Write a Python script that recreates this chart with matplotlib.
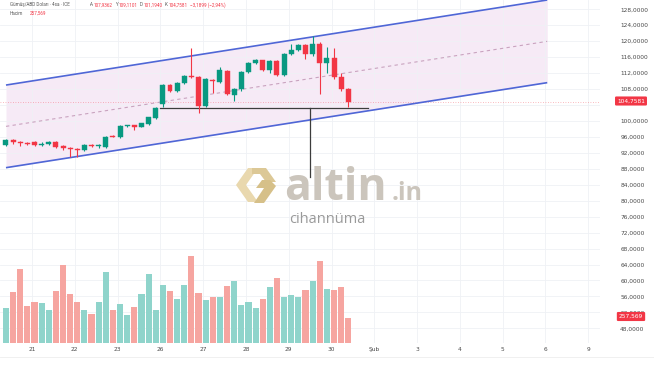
import matplotlib
matplotlib.use('Agg')
import matplotlib.pyplot as plt
import numpy as np
from matplotlib.patches import Rectangle, Polygon

# ---------------- data ----------------
opens = [93.9, 95.2, 94.8, 94.5, 94.6, 94.0, 94.2, 94.7, 93.6, 93.3,
         93.0, 92.7, 94.0, 93.7, 93.5, 96.3, 96.0, 98.7, 98.9, 98.6,
         99.2, 100.7, 104.2, 109.0, 107.5, 109.5, 111.3, 111.1, 103.8, 110.3,
         109.8, 112.6, 106.5, 107.9, 112.3, 114.6, 115.2, 112.7, 115.0, 111.5,
         116.9, 117.9, 119.0, 116.7, 119.4, 114.6, 115.9, 111.0, 107.94]
highs = [95.5, 95.5, 95.0, 94.7, 94.9, 94.6, 95.0, 95.0, 93.9, 93.5,
         93.3, 94.2, 94.2, 94.2, 96.1, 96.6, 98.9, 99.1, 99.1, 99.6,
         101.1, 103.4, 109.3, 109.3, 109.7, 111.5, 118.2, 111.3, 110.7, 110.6,
         113.5, 112.9, 108.2, 112.5, 114.8, 115.5, 115.4, 115.3, 115.2, 117.1,
         119.2, 119.3, 119.2, 121.2, 119.7, 118.6, 118.2, 112.0, 108.3]
lows = [93.7, 94.3, 93.6, 93.9, 93.6, 93.6, 94.0, 93.3, 92.7, 90.9,
        91.0, 92.5, 93.4, 93.2, 93.3, 95.9, 95.8, 98.5, 97.7, 98.4,
        99.0, 100.5, 103.5, 107.2, 107.3, 109.2, 110.7, 102.1, 103.4, 106.9,
        109.5, 106.5, 104.9, 107.6, 112.1, 114.3, 112.5, 112.0, 111.2, 111.3,
        116.6, 117.6, 115.5, 116.4, 106.7, 111.9, 110.6, 107.6, 103.4]
closes = [95.2, 94.8, 94.4, 94.3, 94.0, 94.2, 94.8, 93.5, 93.1, 92.9,
          92.8, 94.0, 93.7, 93.9, 96.0, 96.0, 98.7, 98.9, 98.6, 99.4,
          100.9, 103.2, 109.0, 107.5, 109.5, 111.2, 111.0, 103.8, 110.4, 109.9,
          112.7, 106.7, 107.9, 112.3, 114.6, 115.2, 112.7, 115.0, 111.5, 116.9,
          117.9, 119.0, 116.7, 119.4, 114.6, 115.8, 111.0, 107.9, 104.7581]
volumes_k = [354, 522, 755, 378, 419, 409, 333, 532, 800, 498,
             419, 333, 292, 419, 728, 333, 395, 282, 361, 498,
             704, 333, 591, 529, 453, 594, 889, 512, 443, 474,
             467, 587, 639, 388, 416, 357, 446, 570, 666, 464,
             488, 474, 539, 635, 841, 556, 539, 574, 257.569]

day_labels = ['21', '22', '23', '26', '27', '28', '29', '30', 'Şub', '3', '4', '5', '6', '9']
candles_per_day = 6
first_day_index = 4
price_ticks = list(range(48, 129, 4))
hidden_price_ticks = [104]   # covered by the last-price tag

last_price = 104.7581
last_price_text = '104,7581'
last_volume = '257,569'

# channel drawing (candle index, price)
channel_x = [0, 75.9]
channel_upper = [109.0, 130.33]
channel_lower = [88.28, 109.6]

support_level = 103.3
support_x = [21.6, 50.7]
marker_x = 42.6
marker_bottom = 85.9

# ---------------- figure ----------------
W, H = 654, 366
fig = plt.figure(figsize=(W / 100, H / 100), dpi=100)
fig.patch.set_facecolor('white')


def fx(px):
    return px / W


def fy(py):
    return 1 - py / H


ax_bottom_px = 342.5
ax_right_px = 600
ax = fig.add_axes([0, fy(ax_bottom_px), fx(ax_right_px), ax_bottom_px / H])
ax.set_xlim(-0.84, 83.3)
ax.set_ylim(44.44, 130.33)
for s in ax.spines.values():
    s.set_visible(False)

GREEN = '#089981'
RED = '#f23645'

# volume (twin axis, created first so the price scale can be put back on the right)
ax2 = ax.twinx()
ax2.set_ylim(0, 3530)
ax2.set_yticks([])
for s in ax2.spines.values():
    s.set_visible(False)
vcols = ['#8fd4cb' if c >= o else '#f6a5a0' for o, c in zip(opens, closes)]
ax2.bar(range(len(volumes_k)), volumes_k, width=0.86, color=vcols, zorder=2)

# grid
ax.set_axisbelow(True)
ax.grid(True, color='#eff1f5', lw=0.6)

# ticks
ax.yaxis.tick_right()
ax.yaxis.set_label_position('right')
ax.set_yticks(price_ticks)
ax.set_yticklabels(['' if v in hidden_price_ticks else f"{v},0000" for v in price_ticks])
ax.tick_params(axis='y', which='both', left=False, right=False, labelleft=False, labelright=True,
               length=0, pad=14.5, labelsize=4.2, labelcolor='#4a4a4a')
xt = [first_day_index + candles_per_day * k - 0.35 for k in range(len(day_labels))]
ax.set_xticks(xt)
ax.set_xticklabels(day_labels)
ax.tick_params(axis='x', length=0, pad=3.5, labelsize=4.2, labelcolor='#4a4a4a')

# channel
cx = np.array(channel_x)
ax.fill_between(cx, channel_lower, channel_upper, color='#f6eaf6', zorder=0.3, lw=0)
ax.plot(cx, channel_upper, color='#4f66d6', lw=1.2, zorder=2, solid_capstyle='butt')
ax.plot(cx, channel_lower, color='#4f66d6', lw=1.2, zorder=2, solid_capstyle='butt')
mid = (np.array(channel_upper) + np.array(channel_lower)) / 2
ax.plot(cx, mid, color='#c9a3bf', lw=0.8, ls=(0, (3, 3)), zorder=2)

# last price line
ax.axhline(last_price, color=RED, lw=0.6, ls=(0, (1, 2)), alpha=0.45, zorder=1)

# support line and marker
ax.plot(support_x, [support_level, support_level], color='#3c3c3c', lw=0.9, zorder=2.5)
ax.plot([marker_x, marker_x], [support_level, marker_bottom], color='#3c3c3c', lw=0.9, zorder=2.5)

# candles
bw = 0.7
for i, (o, h, l, c) in enumerate(zip(opens, highs, lows, closes)):
    col = GREEN if c >= o else RED
    ax.vlines(i, l, h, color=col, lw=0.8, zorder=3)
    lo = min(o, c)
    ht = max(abs(c - o), 0.12)
    ax.add_patch(Rectangle((i - bw / 2, lo), bw, ht, facecolor=col, edgecolor=col, lw=0.3, zorder=3.5))

# price labels on the scale
fig.text(fx(631), fy(101), last_price_text, color='white', fontsize=4.2, ha='center', va='center',
         bbox=dict(boxstyle='round,pad=0.35,rounding_size=0.2', fc=RED, ec='none'))
fig.text(fx(631), fy(316.5), last_volume, color='white', fontsize=4.2, ha='center', va='center',
         bbox=dict(boxstyle='round,pad=0.35,rounding_size=0.2', fc=RED, ec='none'))

# header legend
hy1, hy2 = fy(4.8), fy(13.2)
hfs = 3.3
hfam = ['Roboto', 'DejaVu Sans']
dark = '#5a5a5a'
fig.text(fx(10), hy1, 'Gümüş/ABD Doları · 4sa · ICE', fontsize=hfs, family=hfam, color=dark, va='center')
parts = [(90, 'A', dark), (93.5, '107,9362', RED), (115.5, 'Y', dark), (119, '109,1101', RED),
         (140, 'D', dark), (143.5, '101,1940', RED), (165, 'K', dark), (168.5, '104,7581', RED),
         (190.5, '−3,1899 (−2,94%)', RED)]
for x, t, c in parts:
    fig.text(fx(x), hy1, t, fontsize=hfs, family=hfam, color=c, va='center')
fig.text(fx(10), hy2, 'Hacim', fontsize=hfs, family=hfam, color=dark, va='center')
fig.text(fx(30), hy2, last_volume, fontsize=hfs, family=hfam, color=RED, va='center')

# bottom separator
fig.add_artist(plt.Line2D([0, 1], [fy(356.5), fy(356.5)], color='#eeeeee', lw=0.6))


# watermark icon
def poly(pts, color, alpha=1.0):
    p = Polygon([(fx(x), fy(y)) for x, y in pts], closed=True, transform=fig.transFigure,
                facecolor=color, edgecolor='none', alpha=alpha, zorder=10)
    fig.add_artist(p)


poly([(236, 185), (248, 168), (258, 168), (246, 185), (258, 202), (248, 202)], '#e9d8ae')
poly([(252, 168), (266, 168), (276, 182), (266, 182), (260, 174), (252, 174)], '#dcc896')
poly([(276, 186), (264, 203), (254, 203), (264, 188), (256, 188), (262, 180), (270, 180)], '#d6c089')

fig.text(fx(284), fy(200), 'altin', fontsize=32, fontweight='bold', family='Open Sans',
         color='#cbc5bc', va='baseline', ha='left', zorder=10)
fig.text(fx(392), fy(200), '.in', fontsize=18, fontweight='bold', family='Open Sans',
         color='#cbc5bc', va='baseline', ha='left', zorder=10)
fig.text(fx(327), fy(223), 'cihannüma', fontsize=10.5, family='Open Sans',
         color='#9a9a9a', va='baseline', ha='center', zorder=10)

fig.savefig('out.png', dpi=100, facecolor='white')
